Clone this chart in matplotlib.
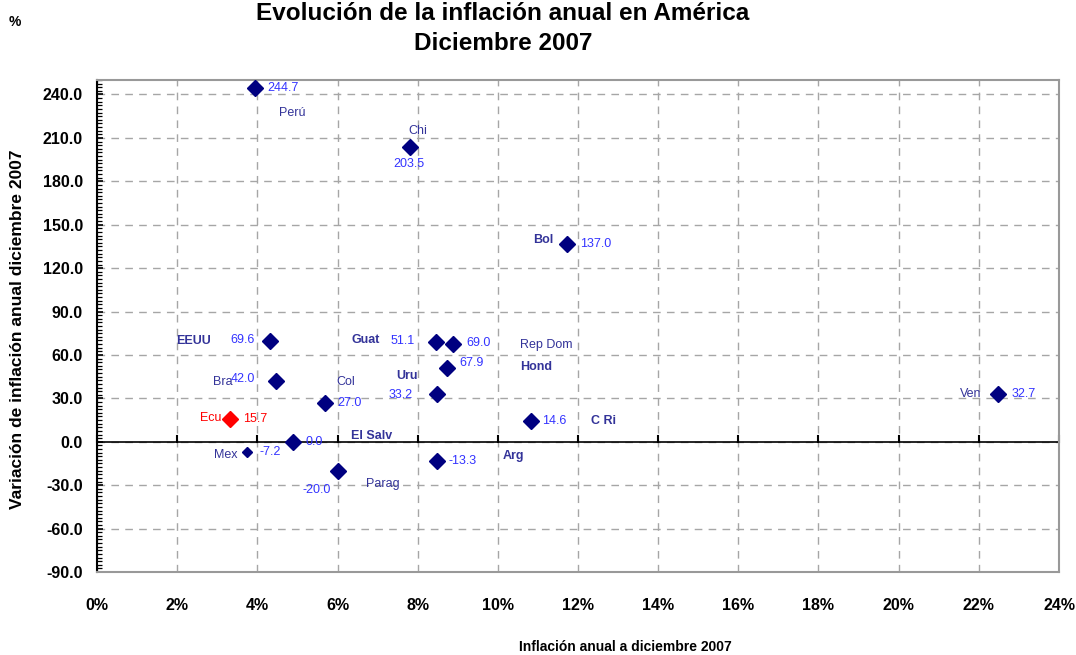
import matplotlib
matplotlib.use("Agg")
import matplotlib.pyplot as plt
from matplotlib.ticker import MultipleLocator, FuncFormatter
from matplotlib.transforms import blended_transform_factory

# ---------------- data ----------------
countries = ["Perú", "Chi", "Bol", "EEUU", "Guat", "Rep Dom", "Hond", "Bra", "Uru",
             "Col", "Ecu", "Ven", "C Ri", "El Salv", "Mex", "Arg", "Parag"]
inflation = [3.94, 7.81, 11.72, 4.31, 8.45, 8.88, 8.73, 4.46, 8.48,
             5.69, 3.32, 22.49, 10.82, 4.89, 3.74, 8.48, 6.01]
variation = [244.7, 203.5, 137.0, 69.6, 69.0, 67.9, 51.1, 42.0, 33.2,
             27.0, 15.7, 32.7, 14.6, 0.0, -7.2, -13.3, -20.0]
value_labels = ["244.7", "203.5", "137.0", "69.6", "51.1", "69.0", "67.9", "42.0", "33.2",
                "27.0", "15.7", "32.7", "14.6", "0.0", "-7.2", "-13.3", "-20.0"]
bold_names = ["Bol", "EEUU", "Guat", "Hond", "Uru", "El Salv", "C Ri", "Arg"]
highlight = "Ecu"
small_marker = ["Mex"]

# label offsets in pixels (name, value) relative to the point
name_offsets = {"Perú": (37, -25), "Chi": (8, 16), "Bol": (-24, 4), "EEUU": (-76, 0),
                "Guat": (-70, 2), "Rep Dom": (93, -1), "Hond": (89, 1), "Bra": (-53, -1),
                "Uru": (-30, 18), "Col": (21, 21), "Ecu": (-19, 1), "Ven": (-28, 0),
                "C Ri": (73, 0), "El Salv": (79, 6), "Mex": (-21, -3), "Arg": (77, 5),
                "Parag": (45, -13)}
value_offsets = {"Perú": (28, 0), "Chi": (-1, -17), "Bol": (29, 0), "EEUU": (-27, 1),
                 "Guat": (-33, 1), "Rep Dom": (26, 1), "Hond": (25, 5), "Bra": (-33, 2),
                 "Uru": (-36, -1), "Col": (24, 0), "Ecu": (25, 0), "Ven": (25, 0),
                 "C Ri": (24, 0), "El Salv": (21, 0), "Mex": (23, 0), "Arg": (26, 0),
                 "Parag": (-21, -19)}

xticks = list(range(0, 25, 2))
yticks = list(range(-90, 241, 30))

NAME_C = "#333399"
VAL_C = "#3333ff"
MARK_C = "#000080"
FONT = ["Liberation Sans", "DejaVu Sans"]

plt.rcParams["font.family"] = FONT

fig = plt.figure(figsize=(10.76, 6.55), dpi=100)
ax = fig.add_axes([97 / 1076, 1 - 572 / 655, (1059 - 97) / 1076, (572 - 80) / 655])

ax.set_xlim(0, 24)
ax.set_ylim(-90, 250)
ax.set_xticks(xticks)
ax.set_yticks(yticks)
ax.xaxis.set_major_formatter(FuncFormatter(lambda v, p: f"{v:.0f}%"))
ax.yaxis.set_major_formatter(FuncFormatter(lambda v, p: f"{v:.1f}"))
ax.yaxis.set_minor_locator(MultipleLocator(2.5))

ax.grid(True, which="major", color="#a6a6a6", linestyle=(0, (5.5, 4.5)), linewidth=1.0)
ax.set_axisbelow(True)

for side in ["top", "right", "bottom"]:
    ax.spines[side].set_color("#999999")
    ax.spines[side].set_linewidth(1.5)
ax.spines["left"].set_color("black")
ax.spines["left"].set_linewidth(1.5)

ax.tick_params(axis="y", which="minor", direction="in", length=3.5, width=0.9, color="black")
ax.tick_params(axis="y", which="major", direction="in", length=4, width=1.2, color="black",
               labelsize=11.5, pad=10)
ax.tick_params(axis="x", which="major", length=0, labelsize=11.5, pad=19)
for lab in ax.get_xticklabels() + ax.get_yticklabels():
    lab.set_fontweight("bold")

# zero line with small ticks
ax.axhline(0, color="black", linewidth=1.2, zorder=2)
trans = blended_transform_factory(ax.transData, ax.transAxes)
y0 = (0 - (-90)) / (250 - (-90))
for xt in xticks:
    ax.plot([xt, xt], [y0, y0 + 0.012], color="black", linewidth=1.5, transform=trans,
            zorder=2, clip_on=False)

# points
for c, xv, yv, vl in zip(countries, inflation, variation, value_labels):
    mc = "#ff0000" if c == highlight else MARK_C
    ms = 5 if c in small_marker else 8
    ax.plot(xv, yv, marker="D", color=mc, markersize=ms, linestyle="none", zorder=4)
    nc = "#ff0000" if c == highlight else NAME_C
    vc = "#ff0000" if c == highlight else VAL_C
    nw = "bold" if c in bold_names else "normal"
    ax.annotate(c, (xv, yv), xytext=name_offsets[c], textcoords="offset pixels",
                ha="center", va="center", color=nc, fontsize=9, fontweight=nw, zorder=5)
    ax.annotate(vl, (xv, yv), xytext=value_offsets[c], textcoords="offset pixels",
                ha="center", va="center", color=vc, fontsize=9, zorder=5)

fig.text(503 / 1076, 1 - 13 / 655, "Evolución de la inflación anual en América",
         ha="center", va="center", fontsize=17.5, fontweight="bold")
fig.text(503 / 1076, 1 - 44 / 655, "Diciembre 2007",
         ha="center", va="center", fontsize=17.5, fontweight="bold")
fig.text(15 / 1076, 1 - 22 / 655, "%", ha="center", va="center", fontsize=10, fontweight="bold")
fig.text(18 / 1076, 1 - 329 / 655, "Variación de inflación anual diciembre 2007",
         ha="center", va="center", rotation=90, fontsize=12.5, fontweight="bold")
fig.text(625 / 1076, 1 - 647 / 655, "Inflación anual a diciembre 2007",
         ha="center", va="center", fontsize=10, fontweight="bold")

fig.savefig("out.png", dpi=100)
